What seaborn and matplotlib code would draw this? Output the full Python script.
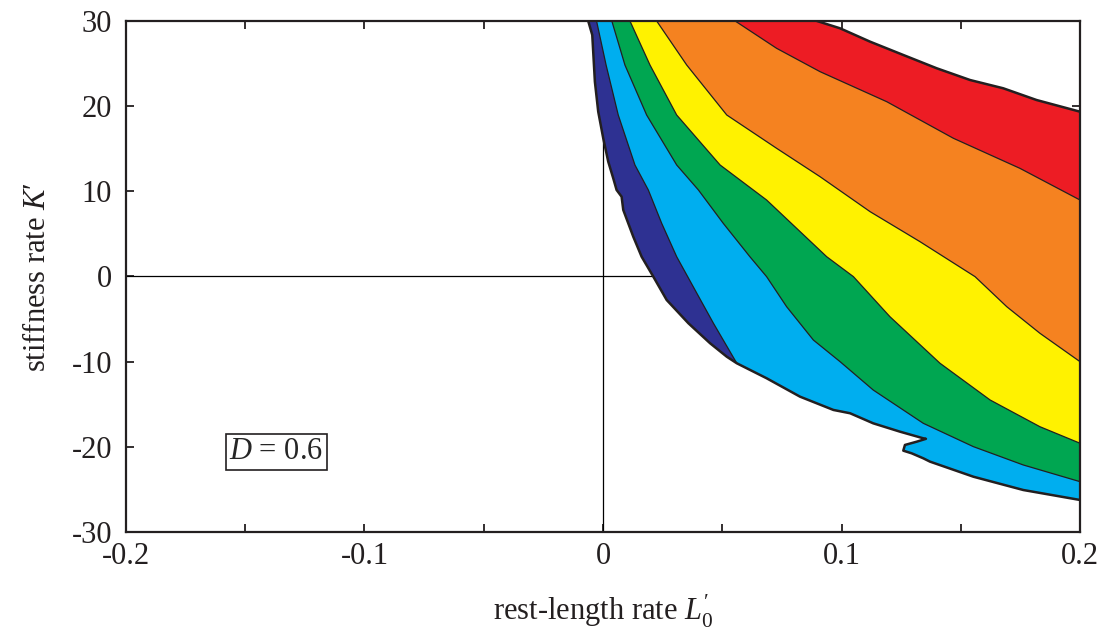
import numpy as np
import matplotlib
matplotlib.use("Agg")
import matplotlib.pyplot as plt
from matplotlib.patches import Polygon
import seaborn as sns
import pandas as pd

# ---------------- data ----------------
# outer feasible-region boundary: left / lower edge, from top down to right edge
outer_lower_x = [-0.0062, -0.0045, -0.0034, -0.0020, 0.0001, 0.0022, 0.0043, 0.0057,
                 0.0078, 0.0085, 0.0127, 0.0162, 0.0211, 0.0267, 0.0358, 0.0449,
                 0.0519, 0.0561, 0.0686, 0.0826, 0.0966, 0.1036, 0.1133, 0.1245,
                 0.1343, 0.1354, 0.1315, 0.1266, 0.1259, 0.1294, 0.1343, 0.1371,
                 0.1553, 0.1762, 0.2000]
outer_lower_y = [30.0, 28.36, 22.87, 19.35, 16.23, 13.48, 11.53, 10.16,
                 9.37, 7.81, 4.67, 2.32, -0.02, -2.76, -5.49, -7.84,
                 -9.42, -10.19, -11.95, -14.11, -15.67, -16.06, -17.24, -18.22,
                 -19.0, -19.06, -19.4, -19.78, -20.45, -20.76, -21.35, -21.74,
                 -23.51, -25.07, -26.24]
# upper boundary of the red band, from the top edge to the right edge
outer_upper_x = [0.0897, 0.0994, 0.1120, 0.1259, 0.1399, 0.1539, 0.1678, 0.1818, 0.2000]
outer_upper_y = [30.0, 29.14, 27.57, 26.01, 24.45, 23.07, 22.10, 20.72, 19.35]

# contour lines separating the bands (top edge -> right/lower edge)
c1_x = [-0.0027, 0.0013, 0.0064, 0.0134, 0.0190, 0.0246, 0.0309, 0.0386, 0.0463, 0.0561]
c1_y = [30.0, 24.83, 18.96, 13.09, 10.16, 6.25, 2.32, -1.59, -5.49, -10.19]
c2_x = [0.0037, 0.0092, 0.0183, 0.0309, 0.0400, 0.0504, 0.0616, 0.0686, 0.0770, 0.0882,
        0.0994, 0.1133, 0.1343, 0.1553, 0.1762, 0.2000]
c2_y = [30.0, 24.83, 18.96, 13.09, 10.16, 6.25, 2.32, -0.02, -3.55, -7.46,
        -10.0, -13.33, -17.24, -19.98, -22.13, -24.09]
c3_x = [0.0113, 0.0197, 0.0309, 0.0491, 0.0686, 0.0938, 0.1050, 0.1120, 0.1203,
        0.1413, 0.1623, 0.1832, 0.2000]
c3_y = [30.0, 24.83, 18.96, 13.09, 8.98, 2.32, -0.02, -2.17, -4.72,
        -10.19, -14.5, -17.64, -19.58]
c4_x = [0.0225, 0.0351, 0.0519, 0.0728, 0.0910, 0.1120, 0.1329, 0.1560, 0.1693, 0.1832, 0.2000]
c4_y = [30.0, 24.83, 18.96, 15.05, 11.72, 7.61, 4.09, -0.02, -3.55, -6.67, -10.0]
c5_x = [0.0554, 0.0728, 0.0910, 0.1190, 0.1469, 0.1748, 0.2000]
c5_y = [30.0, 26.79, 24.05, 20.52, 16.23, 12.70, 8.98]

band_colors = ["#2E3192", "#00AEEF", "#00A651", "#FFF200", "#F58220", "#ED1C24"]
x_ticks = [-0.2, -0.1, 0, 0.1, 0.2]
x_tick_labels = ["-0.2", "-0.1", "0", "0.1", "0.2"]
y_ticks = [-30, -20, -10, 0, 10, 20, 30]
y_tick_labels = ["-30", "-20", "-10", "0", "10", "20", "30"]
annotation = "$D$ = 0.6"

# ---------------- style ----------------
sns.set_theme(style="white")
plt.rcParams["font.family"] = ["Liberation Serif", "DejaVu Serif"]
plt.rcParams["mathtext.fontset"] = "custom"
plt.rcParams["mathtext.rm"] = "Liberation Serif"
plt.rcParams["mathtext.it"] = "Liberation Serif:italic"
plt.rcParams["mathtext.bf"] = "Liberation Serif:bold"

fig = plt.figure(figsize=(11.06, 6.34), dpi=100)
ax = fig.add_axes([0.1139, 0.1609, 0.8626, 0.8060])
ax.set_xlim(-0.2, 0.2)
ax.set_ylim(-30, 30)

# reference axes lines (under the bands)
ax.axhline(0, color="black", lw=0.9, zorder=1)
ax.axvline(0, color="black", lw=0.9, zorder=1)

# outer region polygon
ox = outer_lower_x + outer_upper_x[::-1]
oy = outer_lower_y + outer_upper_y[::-1]
outer = Polygon(np.column_stack([ox, oy]), closed=True, facecolor=band_colors[0],
                edgecolor="none", zorder=2)
ax.add_patch(outer)

contours = [(c1_x, c1_y), (c2_x, c2_y), (c3_x, c3_y), (c4_x, c4_y), (c5_x, c5_y)]
for i, (cx, cy) in enumerate(contours):
    if i == 0:
        px = cx + [cx[-1], 0.3, 0.3, cx[0]]
        py = cy + [-40, -40, 40, 40]
    else:
        px = cx + [0.3, 0.3, cx[0]]
        py = cy + [cy[-1], 40, 40]
    patches = ax.fill(px, py, color=band_colors[i + 1], lw=0, zorder=3 + i)
    for p in patches:
        p.set_clip_path(outer)

# contour lines
line_frames = []
for i, (cx, cy) in enumerate(contours):
    line_frames.append(pd.DataFrame({"x": cx, "y": cy, "k": i}))
ldf = pd.concat(line_frames, ignore_index=True)
sns.lineplot(data=ldf, x="x", y="y", units="k", estimator=None, sort=False,
             color="#231F20", lw=0.9, ax=ax, zorder=10, legend=False)

# outer outline (lower-left and upper-right jagged edges)
odf = pd.concat([
    pd.DataFrame({"x": outer_lower_x, "y": outer_lower_y, "k": 0}),
    pd.DataFrame({"x": outer_upper_x, "y": outer_upper_y, "k": 1}),
], ignore_index=True)
sns.lineplot(data=odf, x="x", y="y", units="k", estimator=None, sort=False,
             color="#231F20", lw=1.8, ax=ax, zorder=11, legend=False)

# annotation box
ax.text(-0.137, -20.6, annotation, fontsize=22, ha="center", va="center", zorder=12,
        bbox=dict(boxstyle="square,pad=0.12", facecolor="white", edgecolor="#231F20", lw=1.2))

# ticks
ax.set_xticks(x_ticks)
ax.set_xticklabels(x_tick_labels)
ax.set_xticks([-0.15, -0.05, 0.05, 0.15], minor=True)
ax.set_yticks(y_ticks)
ax.set_yticklabels(y_tick_labels)
ax.tick_params(axis="both", which="both", direction="in", length=6, width=1.3,
               color="#231F20", top=True, right=True, bottom=True, left=True,
               labelsize=22)
ax.tick_params(axis="x", which="major", pad=7)
ax.tick_params(axis="y", which="major", pad=10)
for s in ax.spines.values():
    s.set_linewidth(1.6)
    s.set_color("#231F20")
    s.set_zorder(20)

ax.set_xlabel("rest-length rate $L^{\u2032}_{\\mathit{0}}$", fontsize=22, labelpad=16, color="#231F20")
ax.set_ylabel("stiffness rate $K\u2032$", fontsize=22, labelpad=14, color="#231F20")
for lab in ax.get_xticklabels() + ax.get_yticklabels():
    lab.set_color("#231F20")

fig.savefig("out.png", dpi=100)
